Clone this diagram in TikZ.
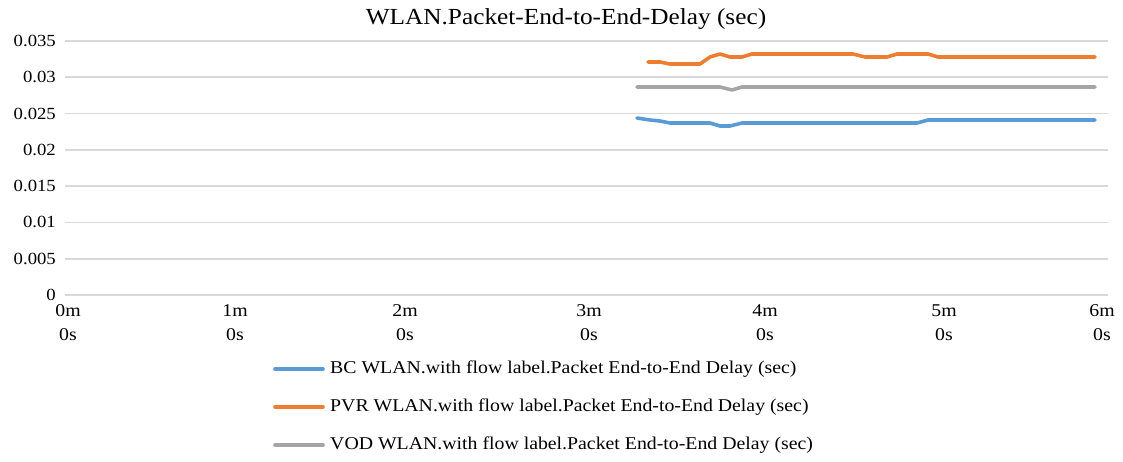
\documentclass[tikz,border=0pt]{standalone}
\usepackage{fontspec}
\setmainfont{Liberation Serif}[FakeStretch=1.1]
\definecolor{bcblue}{RGB}{91,155,213}
\definecolor{pvrorange}{RGB}{237,125,49}
\definecolor{vodgray}{RGB}{165,165,165}
\definecolor{gridgray}{RGB}{217,217,217}
\tikzset{
  gridline/.style={draw=gridgray, line width=1.6pt},
  series/.style={line width=3.6pt, line cap=round, line join=round},
  ylab/.style={anchor=east, font=\fontsize{17}{19}\selectfont, inner sep=0pt},
  xlab/.style={anchor=center, font=\fontsize{18}{20}\selectfont, inner sep=0pt},
  legtext/.style={anchor=west, font=\fontsize{18}{20}\selectfont, inner sep=0pt},
}
\begin{document}
\begin{tikzpicture}[x=1pt,y=-1pt]
\useasboundingbox (0,0) rectangle (1123,461);
% title
\node[font=\fontsize{23}{25}\selectfont, inner sep=0pt, anchor=base] (title) at (566,24) {WLAN.Packet-End-to-End-Delay (sec)};
% grid and y labels
\foreach \v/\lab [count=\i from 0] in {0/0,1/0.005,2/0.01,3/0.015,4/0.02,5/0.025,6/0.03,7/0.035}{
  \pgfmathsetmacro{\yy}{295-\v*36.29}
  \draw[gridline] (65,\yy) -- (1108,\yy);
  \node[ylab] (y\i) at (56,\yy) {\lab};
}
% x labels
\foreach \x/\m [count=\i] in {68/0,235/1,405/2,589/3,765/4,944/5,1102/6}{
  \node[xlab] (xm\i) at (\x,311) {\m m};
  \node[xlab] (xs\i) at (\x,335) {0s};
}
% series
\draw[series, vodgray] (637,87) -- (720,87) -- (732,90) -- (742,87) -- (1095,87);
\draw[series, bcblue] (637,118) -- (650,120) -- (660,121) -- (670,123) -- (710,123) -- (720,126) -- (730,126) -- (742,123) -- (917,123) -- (928,120) -- (1095,120);
\draw[series, pvrorange] (648,62) -- (660,62) -- (670,64) -- (700,64) -- (710,57) -- (720,54) -- (730,57) -- (742,57) -- (752,54) -- (853,54) -- (865,57) -- (887,57) -- (897,54) -- (928,54) -- (938,57) -- (1095,57);
% legend
\foreach \c/\t/\yy [count=\i] in {bcblue/BC/369,pvrorange/PVR/407,vodgray/VOD/445}{
  \coordinate (ls\i) at (275,\yy);
  \coordinate (le\i) at (323,\yy);
  \draw[series, \c] (ls\i) -- (le\i);
  \node[legtext] (lt\i) at (330,\yy) {\t{} WLAN.with flow label.Packet End-to-End Delay (sec)};
}
\end{tikzpicture}
\end{document}
